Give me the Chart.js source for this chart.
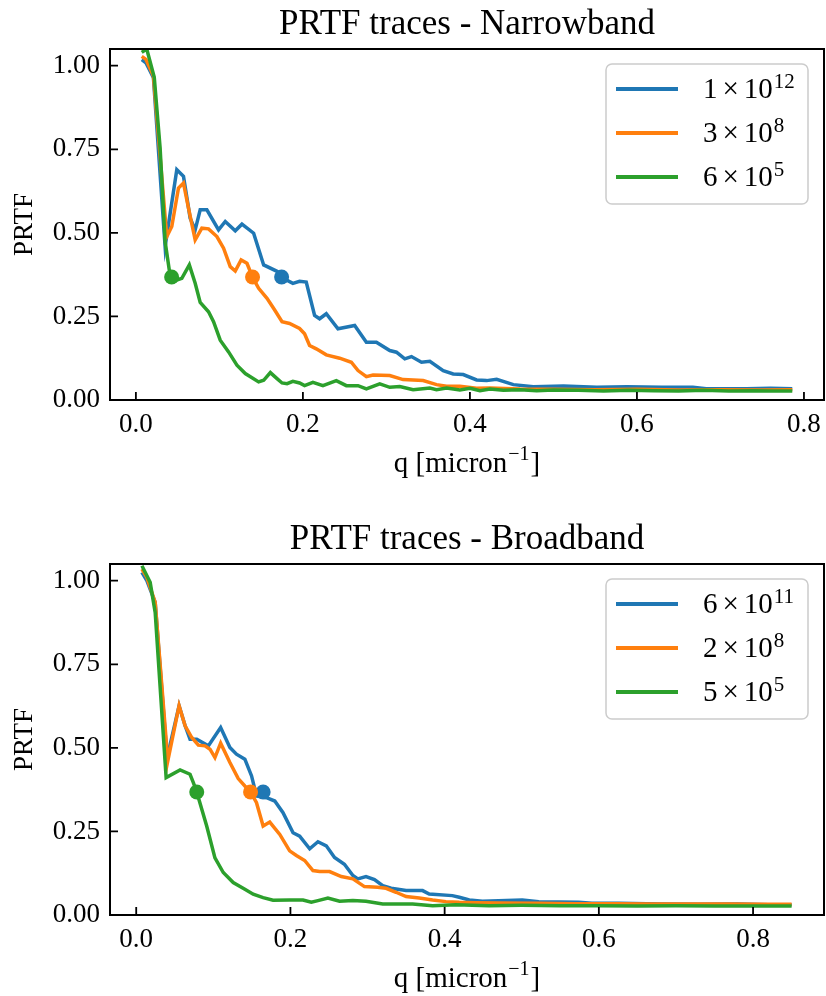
<!DOCTYPE html>
<html>
<head>
<meta charset="utf-8">
<title>PRTF traces</title>
<script src="https://cdn.jsdelivr.net/npm/chart.js@4.4.0/dist/chart.umd.min.js"></script>
<style>
  html, body { margin: 0; padding: 0; background: #fff; overflow: hidden; }
  .panel { position: absolute; left: 0; width: 826px; height: 481px; }
  #topPanel { top: 0; }
  #bottomPanel { top: 515px; }
</style>
</head>
<body>
<div class="panel" id="topPanel"><canvas id="narrow" width="826" height="481"></canvas></div>
<div class="panel" id="bottomPanel"><canvas id="broad" width="826" height="481"></canvas></div>
<script>
// Tick labels
const xTicks = [0.0, 0.2, 0.4, 0.6, 0.8];
const yTicks = [0.0, 0.25, 0.5, 0.75, 1.0];

// Narrowband traces (q in micron^-1, PRTF)
const nbHighQ = [0.007, 0.012, 0.021, 0.035, 0.049, 0.057, 0.065, 0.071, 0.077, 0.085, 0.099, 0.107, 0.119, 0.127, 0.141, 0.153, 0.169, 0.181, 0.188, 0.196, 0.204, 0.214, 0.220, 0.228, 0.242, 0.262, 0.276, 0.288, 0.304, 0.312, 0.322, 0.330, 0.342, 0.352, 0.368, 0.380, 0.392, 0.408, 0.420, 0.432, 0.452, 0.476, 0.512, 0.552, 0.588, 0.630, 0.667, 0.683, 0.731, 0.760, 0.786];
const nbHigh = [1.018, 1.009, 0.964, 0.459, 0.689, 0.669, 0.544, 0.509, 0.569, 0.569, 0.509, 0.534, 0.506, 0.526, 0.499, 0.404, 0.385, 0.358, 0.349, 0.355, 0.353, 0.253, 0.243, 0.258, 0.213, 0.223, 0.173, 0.173, 0.148, 0.143, 0.123, 0.130, 0.113, 0.116, 0.088, 0.078, 0.076, 0.060, 0.058, 0.062, 0.046, 0.040, 0.042, 0.038, 0.040, 0.038, 0.038, 0.034, 0.034, 0.035, 0.034];

const nbMidQ = [0.007, 0.012, 0.021, 0.037, 0.043, 0.051, 0.057, 0.063, 0.071, 0.079, 0.087, 0.097, 0.105, 0.113, 0.119, 0.126, 0.133, 0.140, 0.147, 0.157, 0.166, 0.175, 0.184, 0.196, 0.202, 0.208, 0.216, 0.228, 0.244, 0.258, 0.266, 0.276, 0.284, 0.304, 0.320, 0.344, 0.360, 0.372, 0.388, 0.408, 0.424, 0.460, 0.500, 0.550, 0.600, 0.650, 0.700, 0.750, 0.786];
const nbMid = [1.028, 1.019, 0.969, 0.489, 0.519, 0.634, 0.649, 0.574, 0.479, 0.514, 0.512, 0.489, 0.454, 0.399, 0.386, 0.419, 0.409, 0.366, 0.334, 0.304, 0.270, 0.234, 0.229, 0.214, 0.198, 0.163, 0.153, 0.135, 0.125, 0.113, 0.088, 0.070, 0.075, 0.073, 0.061, 0.058, 0.046, 0.041, 0.041, 0.035, 0.036, 0.033, 0.032, 0.031, 0.032, 0.030, 0.031, 0.030, 0.031];

const nbLowQ = [0.007, 0.013, 0.022, 0.029, 0.035, 0.041, 0.049, 0.055, 0.064, 0.071, 0.077, 0.087, 0.093, 0.101, 0.111, 0.121, 0.131, 0.147, 0.153, 0.161, 0.169, 0.175, 0.181, 0.188, 0.196, 0.202, 0.212, 0.224, 0.240, 0.252, 0.266, 0.276, 0.292, 0.304, 0.316, 0.332, 0.352, 0.360, 0.372, 0.388, 0.400, 0.412, 0.424, 0.440, 0.460, 0.480, 0.500, 0.530, 0.560, 0.590, 0.620, 0.650, 0.680, 0.710, 0.740, 0.760, 0.786];
const nbLow = [1.040, 1.050, 0.965, 0.754, 0.474, 0.372, 0.359, 0.364, 0.404, 0.349, 0.292, 0.264, 0.234, 0.179, 0.144, 0.104, 0.079, 0.054, 0.059, 0.082, 0.064, 0.051, 0.049, 0.056, 0.051, 0.043, 0.053, 0.043, 0.058, 0.043, 0.043, 0.033, 0.048, 0.038, 0.040, 0.031, 0.036, 0.031, 0.036, 0.030, 0.035, 0.028, 0.033, 0.029, 0.031, 0.028, 0.030, 0.029, 0.027, 0.029, 0.028, 0.027, 0.029, 0.027, 0.028, 0.027, 0.027];

// Broadband traces
const bbHighQ = [0.0074, 0.0138, 0.0246, 0.040, 0.0556, 0.0634, 0.0698, 0.0785, 0.0935, 0.1095, 0.1215, 0.130, 0.1409, 0.1496, 0.156, 0.169, 0.1797, 0.1904, 0.2034, 0.212, 0.225, 0.2357, 0.2465, 0.2572, 0.270, 0.281, 0.2874, 0.298, 0.309, 0.3197, 0.3306, 0.350, 0.3714, 0.380, 0.410, 0.419, 0.432, 0.449, 0.470, 0.5007, 0.522, 0.574, 0.591, 0.626, 0.680, 0.730, 0.780, 0.820, 0.850];
const bbHigh = [1.025, 1.000, 0.935, 0.470, 0.626, 0.566, 0.526, 0.526, 0.506, 0.561, 0.501, 0.481, 0.466, 0.416, 0.356, 0.351, 0.341, 0.306, 0.246, 0.236, 0.198, 0.219, 0.207, 0.172, 0.152, 0.118, 0.108, 0.115, 0.106, 0.088, 0.080, 0.073, 0.073, 0.063, 0.058, 0.053, 0.045, 0.041, 0.043, 0.045, 0.040, 0.038, 0.035, 0.035, 0.033, 0.032, 0.033, 0.031, 0.031];

const bbMidQ = [0.0074, 0.0138, 0.0246, 0.041, 0.0556, 0.0634, 0.072, 0.0806, 0.0892, 0.0957, 0.1021, 0.1095, 0.1215, 0.1323, 0.1409, 0.1483, 0.156, 0.1646, 0.1732, 0.1862, 0.199, 0.2077, 0.2185, 0.2292, 0.2379, 0.2508, 0.266, 0.281, 0.296, 0.313, 0.324, 0.337, 0.350, 0.367, 0.3844, 0.4017, 0.419, 0.440, 0.470, 0.520, 0.570, 0.620, 0.670, 0.720, 0.770, 0.820, 0.850];
const bbMid = [1.035, 1.010, 0.935, 0.461, 0.626, 0.566, 0.531, 0.508, 0.506, 0.496, 0.471, 0.514, 0.456, 0.408, 0.386, 0.368, 0.336, 0.266, 0.278, 0.241, 0.192, 0.178, 0.163, 0.133, 0.130, 0.130, 0.115, 0.108, 0.085, 0.083, 0.080, 0.068, 0.055, 0.051, 0.045, 0.040, 0.038, 0.037, 0.036, 0.035, 0.034, 0.034, 0.033, 0.033, 0.033, 0.032, 0.032];

const bbLowQ = [0.0074, 0.0181, 0.0246, 0.0388, 0.0569, 0.0698, 0.0741, 0.0785, 0.0914, 0.1021, 0.1129, 0.1258, 0.1409, 0.1517, 0.1646, 0.1775, 0.199, 0.2163, 0.2271, 0.2357, 0.2486, 0.2637, 0.281, 0.298, 0.3197, 0.3585, 0.3844, 0.4146, 0.4577, 0.500, 0.550, 0.600, 0.650, 0.700, 0.750, 0.800, 0.850];
const bbLow = [1.045, 0.995, 0.905, 0.411, 0.434, 0.421, 0.396, 0.368, 0.266, 0.171, 0.127, 0.097, 0.077, 0.062, 0.052, 0.044, 0.045, 0.045, 0.038, 0.043, 0.051, 0.041, 0.043, 0.041, 0.033, 0.033, 0.028, 0.031, 0.028, 0.029, 0.028, 0.028, 0.027, 0.028, 0.027, 0.027, 0.027];

// 1/e crossing markers (high, mid, low)
const nbMarkQ = [0.1745, 0.1397, 0.0428];
const bbMarkQ = [0.1646, 0.1483, 0.0785];
const markPRTF = [0.368, 0.368, 0.368];

// Legend labels: coefficient x 10^exponent
const nbCoeff = ['1', '3', '6'];
const nbExp = ['12', '8', '5'];
const bbCoeff = ['6', '2', '5'];
const bbExp = ['11', '8', '5'];

const colors = ['#1f77b4', '#ff7f0e', '#2ca02c'];
const SERIF = "'Liberation Serif', 'Times New Roman', serif";

Chart.defaults.font.family = SERIF;
Chart.defaults.color = '#000';

function pts(q, v) {
  return q.map((x, i) => ({ x: x, y: v[i] }));
}

// Box around the axes, inward ticks, x label with superscript
const framePlugin = {
  id: 'frame',
  afterDatasetsDraw(chart) {
    const { ctx, chartArea: a, scales: { x, y } } = chart;
    ctx.save();
    ctx.strokeStyle = '#000';
    ctx.lineWidth = 1.8;
    ctx.beginPath();
    x.ticks.forEach(t => {
      const px = x.getPixelForValue(t.value);
      ctx.moveTo(px, a.bottom);
      ctx.lineTo(px, a.bottom - 8);
    });
    y.ticks.forEach(t => {
      const py = y.getPixelForValue(t.value);
      ctx.moveTo(a.left, py);
      ctx.lineTo(a.left + 8, py);
    });
    ctx.stroke();
    ctx.lineWidth = 2;
    ctx.strokeRect(a.left, a.top, a.right - a.left, a.bottom - a.top);

    // x axis title: q [micron^-1]
    const big = '29px ' + SERIF, small = '20px ' + SERIF;
    ctx.fillStyle = '#000';
    ctx.textBaseline = 'alphabetic';
    ctx.textAlign = 'left';
    ctx.font = big;
    const w1 = ctx.measureText('q [micron').width;
    const w3 = ctx.measureText(']').width;
    ctx.font = small;
    const w2 = ctx.measureText('\u22121').width + 2;
    const base = a.bottom + 72;
    let tx = (a.left + a.right) / 2 - (w1 + w2 + w3) / 2;
    ctx.font = big;
    ctx.fillText('q [micron', tx, base);
    tx += w1;
    ctx.font = small;
    ctx.fillText('\u22121', tx + 1, base - 12);
    tx += w2;
    ctx.font = big;
    ctx.fillText(']', tx, base);
    ctx.restore();
  }
};

// Legend with exponents drawn as superscripts
const expLegendPlugin = {
  id: 'expLegend',
  afterDraw(chart, args, opts) {
    const { ctx, chartArea: a } = chart;
    const w = 202, h = 140;
    const bx = a.right - 16 - w, by = a.top + 15;
    ctx.save();
    ctx.fillStyle = 'rgba(255,255,255,0.8)';
    ctx.strokeStyle = '#cccccc';
    ctx.lineWidth = 1.5;
    ctx.beginPath();
    ctx.roundRect(bx, by, w, h, 6);
    ctx.fill();
    ctx.stroke();
    const main = '29px ' + SERIF, sup = '21px ' + SERIF;
    opts.coeff.forEach((c, i) => {
      const ly = by + 25 + i * 44;
      ctx.strokeStyle = colors[i];
      ctx.lineWidth = 4;
      ctx.beginPath();
      ctx.moveTo(bx + 10, ly);
      ctx.lineTo(bx + 72, ly);
      ctx.stroke();
      const base = ly + 9;
      let tx = bx + 97;
      ctx.fillStyle = '#000';
      ctx.textBaseline = 'alphabetic';
      ctx.textAlign = 'left';
      ctx.font = main;
      ctx.fillText(c, tx, base);
      tx += ctx.measureText(c).width + 5;
      ctx.fillText('\u00d7', tx, base);
      tx += ctx.measureText('\u00d7').width + 5;
      ctx.fillText('10', tx, base);
      tx += ctx.measureText('10').width + 1;
      ctx.font = sup;
      ctx.fillText(opts.exp[i], tx, base - 10);
    });
    ctx.restore();
  }
};

function makeChart(id, title, lines, markQ, coeff, exp, xMin, xMax) {
  const datasets = [];
  lines.forEach((s, i) => {
    datasets.push({
      data: pts(s[0], s[1]),
      borderColor: colors[i],
      borderWidth: 3.5,
      pointRadius: 0,
      tension: 0,
      fill: false,
      order: 6 - 2 * i
    });
    datasets.push({
      data: [{ x: markQ[i], y: markPRTF[i] }],
      showLine: false,
      pointRadius: 7.5,
      pointBackgroundColor: colors[i],
      pointBorderWidth: 0,
      order: 5 - 2 * i
    });
  });

  return new Chart(document.getElementById(id), {
    type: 'line',
    data: { datasets },
    options: {
      responsive: false,
      animation: false,
      layout: { autoPadding: false, padding: { left: 0, right: 2, top: 0, bottom: 0 } },
      plugins: {
        legend: { display: false },
        tooltip: { enabled: false },
        title: {
          display: true,
          fullSize: false,
          text: title,
          color: '#000',
          font: { size: 35, weight: 'normal' },
          padding: { top: 4, bottom: 3 }
        },
        expLegend: { coeff, exp }
      },
      scales: {
        x: {
          type: 'linear',
          min: xMin,
          max: xMax,
          afterBuildTicks: s => { s.ticks = xTicks.map(v => ({ value: v })); },
          afterFit: s => { s.height = 81; s.paddingLeft = 0; s.paddingRight = 0; },
          grid: { display: false, drawTicks: false },
          border: { display: false },
          ticks: {
            callback: v => v.toFixed(1),
            font: { size: 27 },
            padding: 9,
            maxRotation: 0,
            autoSkip: false
          }
        },
        y: {
          min: 0,
          max: 1.05,
          afterBuildTicks: s => { s.ticks = yTicks.map(v => ({ value: v })); },
          afterFit: s => { s.width = 110; s.paddingTop = 0; s.paddingBottom = 0; },
          grid: { display: false, drawTicks: false },
          border: { display: false },
          ticks: {
            callback: v => v.toFixed(2),
            font: { size: 27 },
            padding: 10
          },
          title: {
            display: true,
            text: 'PRTF',
            font: { size: 27 },
            padding: { top: 9, bottom: 0 }
          }
        }
      }
    },
    plugins: [framePlugin, expLegendPlugin]
  });
}

makeChart('narrow', 'PRTF traces - Narrowband',
  [[nbHighQ, nbHigh], [nbMidQ, nbMid], [nbLowQ, nbLow]],
  nbMarkQ, nbCoeff, nbExp, -0.031, 0.824);

makeChart('broad', 'PRTF traces - Broadband',
  [[bbHighQ, bbHigh], [bbMidQ, bbMid], [bbLowQ, bbLow]],
  bbMarkQ, bbCoeff, bbExp, -0.034, 0.892);
</script>
</body>
</html>
